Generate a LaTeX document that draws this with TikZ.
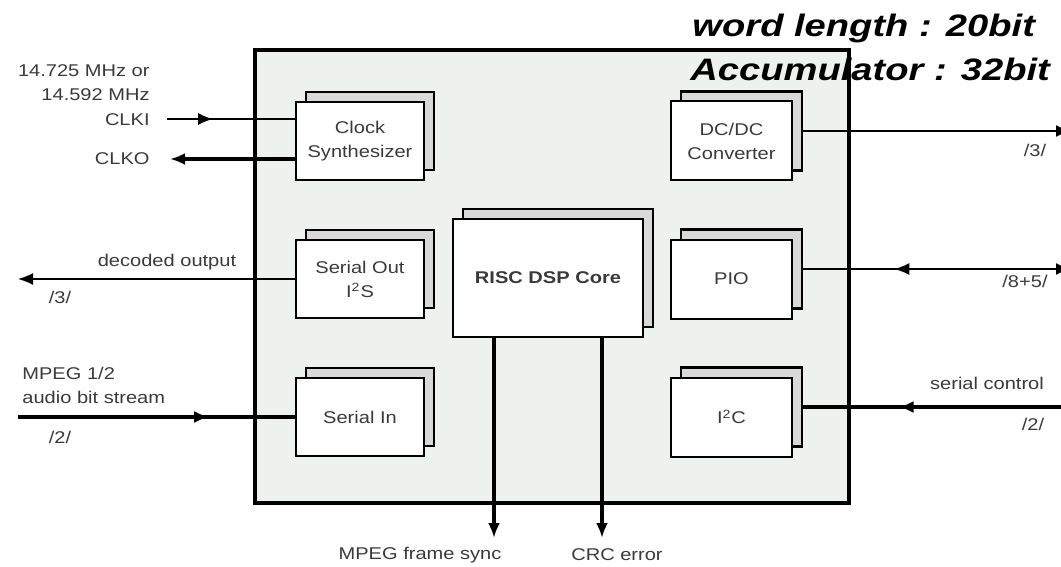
\documentclass[tikz,border=0pt]{standalone}
\usepackage{fontspec}
\setmainfont{Liberation Sans}[FakeStretch=1.18]
\newfontfamily\titlefont{Liberation Sans}[FakeStretch=1.23]
\usetikzlibrary{arrows.meta,decorations.markings}

\definecolor{chipfill}{HTML}{EDF2EE}
\definecolor{backfill}{HTML}{D9D9D9}
\definecolor{labelgrey}{HTML}{3A3A3A}
\newcommand\lblfont{\fontsize{8.5}{12}\selectfont}

\tikzset{
  front/.style={draw, fill=white, line width=1pt, align=center, inner sep=0pt, text=labelgrey, font=\lblfont},
  back/.style={draw, fill=backfill, line width=1.2pt, inner sep=0pt},
  lbl/.style={text=labelgrey, font=\lblfont, inner sep=0pt},
  thinbus/.style={line width=0.8pt},
  thickbus/.style={line width=2pt},
  tip/.style={-{Latex[length=7.5pt,width=6pt]}},
  midtip/.style={postaction={decorate}, decoration={markings,
    mark=at position #1 with {\arrow{Latex[length=7.5pt,width=6pt]}}}},
}

\begin{document}
\begin{tikzpicture}[x=0.5pt,y=-0.5pt]
\useasboundingbox (0,0) rectangle (1061,567);
\clip (0,0) rectangle (1061,567);

\def\xl{360}; % left column
\def\xc{548}; % core
\def\xr{731.5}; % right column
\def\ya{141}; % top row
\def\yb{279}; % middle row
\def\yc{417}; % bottom row
\def\dd{10}; % shadow shift

% chip
\fill[chipfill] (255,50) rectangle (849,503);

\node[anchor=base east, font=\titlefont\bfseries\itshape\fontsize{15.5}{18}\selectfont] (wordlen) at (1042,37) {word length : 20bit};
\node[anchor=base east, font=\titlefont\bfseries\itshape\fontsize{15.5}{18}\selectfont] (accu) at (1057,81) {Accumulator : 32bit};

\draw[line width=2pt] (255,50) rectangle (849,503);

% blocks, left
\node[back, minimum width=64pt, minimum height=39pt] (clkb) at (\xl+\dd, \ya-\dd) {};
\node[front, minimum width=64pt, minimum height=39pt] (clk) at (\xl, \ya) {Clock\\Synthesizer};
\node[back, minimum width=64pt, minimum height=39pt] (soutb) at (\xl+\dd, \yb-\dd) {};
\node[front, minimum width=64pt, minimum height=39pt] (sout) at (\xl, \yb) {Serial Out\\I\textsuperscript{2}S};
\node[back, minimum width=64pt, minimum height=39pt] (sinb) at (\xl+\dd, \yc-\dd) {};
\node[front, minimum width=64pt, minimum height=39pt] (sin) at (\xl, \yc) {Serial In};

% blocks, right
\node[back, minimum width=60.5pt, minimum height=39.5pt] (dcdcb) at (\xr+\dd, \ya-\dd) {};
\node[front, minimum width=60.5pt, minimum height=39.5pt] (dcdc) at (\xr, \ya) {DC/DC\\Converter};
\node[back, minimum width=60.5pt, minimum height=39.5pt] (piob) at (\xr+\dd, \yb-\dd) {};
\node[front, minimum width=60.5pt, minimum height=39.5pt] (pio) at (\xr, \yb) {PIO};
\node[back, minimum width=60.5pt, minimum height=39.5pt] (i2cb) at (\xr+\dd, \yc-\dd) {};
\node[front, minimum width=60.5pt, minimum height=39.5pt] (i2c) at (\xr, \yc) {I\textsuperscript{2}C};

% core
\node[back, minimum width=95pt, minimum height=59pt] (coreb) at (\xc+\dd, 278-\dd) {};
\node[front, minimum width=95pt, minimum height=59pt, font=\lblfont\bfseries] (core) at (\xc, 278) {RISC DSP Core};

% free ends
\coordinate (clkiend) at (167,119);
\coordinate (clkoend) at (170,159);
\coordinate (decend) at (18,279);
\coordinate (mpegend) at (18,417);
\coordinate (dcend) at (1071,0);
\coordinate (pioend) at (1071,0);
\coordinate (i2cend) at (1061,0);
\coordinate (syncend) at (494,538);
\coordinate (crcend) at (602,538);

% connectors
\draw[thinbus, midtip=0.36] (clkiend) -- (clkiend -| clk.west);
\draw[thickbus, tip] (clkoend -| clk.west) -- (clkoend);
\draw[thinbus, tip] (sout.west) -- (decend);
\draw[thickbus, midtip=0.69] (mpegend) -- (sin.west);
\draw[thinbus, tip] (dcdcb.east) -- (dcdcb.east -| dcend);
\draw[thinbus, {Latex[length=7.5pt,width=6pt]}-, midtip=0.66] (piob.east -| pioend) -- (piob.east);
\draw[thickbus, midtip=0.63] (i2cb.east -| i2cend) -- (i2cb.east);
\draw[thickbus, tip] (syncend |- core.south) -- (syncend);
\draw[thickbus, tip] (crcend |- core.south) -- (crcend);

% labels
\node[lbl, anchor=east, align=right] (rate) at (150,83) {14.725 MHz or\\14.592 MHz};
\node[lbl, anchor=east] (clkilbl) at (150,120) {CLKI};
\node[lbl, anchor=east] (clkolbl) at (150,159) {CLKO};
\node[lbl] (declbl) at (167,262) {decoded output};
\node[lbl] (decw) at (60,297) {/3/};
\node[lbl, anchor=west, align=left] (mpeglbl) at (22,385) {MPEG 1/2\\audio bit stream};
\node[lbl] (mpegw) at (60,437) {/2/};
\node[lbl] (dcw) at (1035,150) {/3/};
\node[lbl] (piow) at (1025,281) {/8+5/};
\node[lbl] (serlbl) at (987,383) {serial control};
\node[lbl] (i2cw) at (1033,424) {/2/};
\node[lbl] (synclbl) at (420,555) {MPEG frame sync};
\node[lbl] (crclbl) at (617,555) {CRC error};

\end{tikzpicture}
\end{document}
